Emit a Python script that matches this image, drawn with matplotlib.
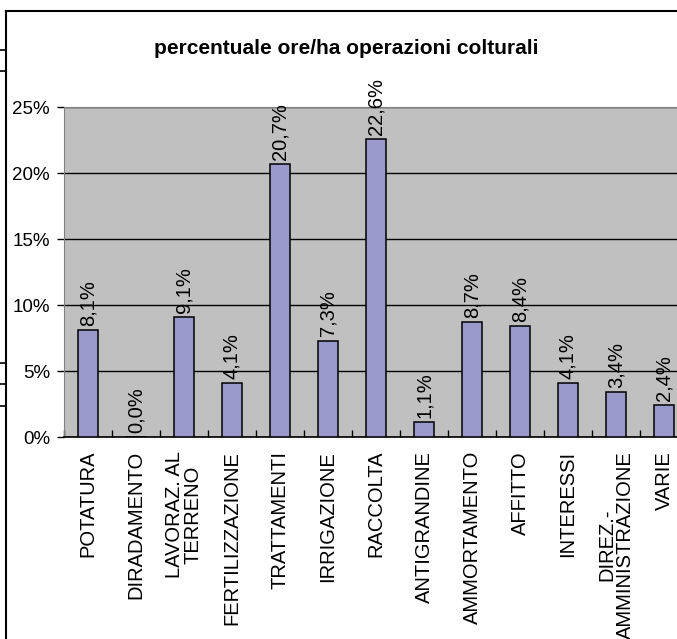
import matplotlib
matplotlib.use("Agg")
import matplotlib.pyplot as plt
from matplotlib.lines import Line2D
import numpy as np

plt.rcParams['font.family'] = ['Liberation Sans', 'DejaVu Sans']

categories = ["POTATURA", "DIRADAMENTO", "LAVORAZ. AL\nTERRENO", "FERTILIZZAZIONE",
              "TRATTAMENTI", "IRRIGAZIONE", "RACCOLTA", "ANTIGRANDINE",
              "AMMORTAMENTO", "AFFITTO", "INTERESSI", "DIREZ.-\nAMMINISTRAZIONE", "VARIE"]
values = [8.1, 0.0, 9.1, 4.1, 20.7, 7.3, 22.6, 1.1, 8.7, 8.4, 4.1, 3.4, 2.4]
yticks = [0, 5, 10, 15, 20, 25]
title = "percentuale ore/ha operazioni colturali"

W, H = 677, 639
fig = plt.figure(figsize=(W/100, H/100), dpi=100)
fig.patch.set_facecolor('white')

ax = fig.add_axes([64/W, 1-437/H, 624/W, 330/H])
ax.set_facecolor('#C0C0C0')
x = np.arange(len(categories))
ax.bar(x, values, width=0.4, color='#9999CC', edgecolor='black', linewidth=1.1, zorder=3)
ax.set_xlim(-0.5, len(categories)-0.5)
ax.set_ylim(0, 25)
ax.set_yticks(yticks)
ax.set_yticklabels([f"{t}%" for t in yticks], fontsize=13.5)
ax.yaxis.grid(True, color='black', linewidth=1)
ax.set_axisbelow(True)
ax.set_xticks(x)
ax.set_xticklabels(categories, rotation=90, fontsize=14.5, multialignment='center',
                   linespacing=0.95)
ax.tick_params(axis='x', length=0, pad=10)
ax.set_xticks(np.arange(len(categories)+1)-0.5, minor=True)
ax.tick_params(axis='x', which='minor', direction='in', length=5, width=1)
ax.tick_params(axis='y', direction='out', length=5, width=1, pad=5)
for s in ['top', 'right']:
    ax.spines[s].set_color('#808080')
ax.spines['left'].set_color('#808080')
ax.spines['bottom'].set_color('black')
ax.spines['bottom'].set_linewidth(1.2)

for xi, v in zip(x, values):
    ax.annotate(f"{v:.1f}%".replace('.', ','), (xi, v), xytext=(0, 3), textcoords='offset points',
                rotation=90, ha='center', va='bottom', fontsize=14.5)

fig.text(346/W, 1-48/H, title, ha='center', va='center', fontsize=15, fontweight='bold')

# frame
fig.add_artist(Line2D([6/W, 6/W], [0, 1-11/H], color='black', linewidth=1.5))
fig.add_artist(Line2D([6/W, 1], [1-11/H, 1-11/H], color='black', linewidth=1.5))
for yy in [50, 71, 363, 384, 406]:
    fig.add_artist(Line2D([0, 6/W], [1-yy/H, 1-yy/H], color='black', linewidth=1.2))

fig.savefig('out.png', dpi=100)
